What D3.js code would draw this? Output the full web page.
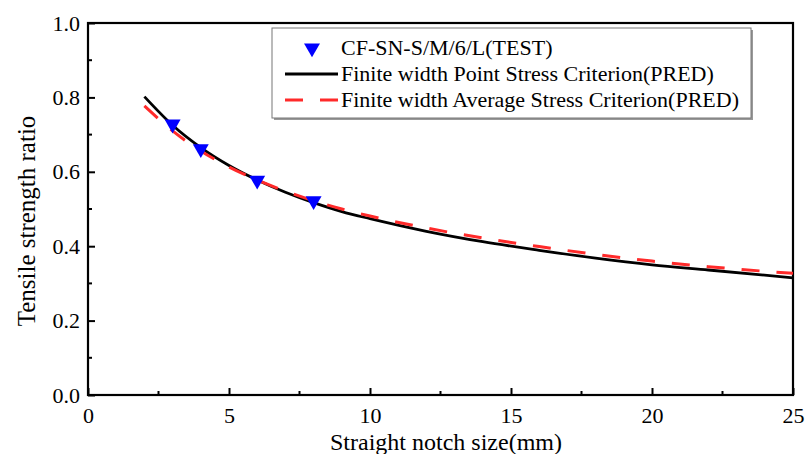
<!DOCTYPE html>
<html><head><meta charset="utf-8">
<script src="https://cdn.jsdelivr.net/npm/d3@7"></script>
<style>body{margin:0;background:#fff}svg{display:block}text{font-family:"Liberation Serif","Times New Roman",serif;fill:#000}</style>
</head><body>
<svg id="c" width="807" height="454"></svg>
<script>
const testX = [3, 4, 6, 8];
const testY = [0.728, 0.662, 0.577, 0.522];
const curveX = [2, 3, 4, 5, 6, 7, 8, 9, 10, 12, 14, 16, 18, 20, 22, 25];
const pointStress = [0.802, 0.725, 0.665, 0.617, 0.578, 0.545, 0.517, 0.493, 0.474, 0.440, 0.412, 0.389, 0.368, 0.350, 0.336, 0.315];
const avgStress = [0.777, 0.710, 0.656, 0.613, 0.578, 0.548, 0.522, 0.500, 0.481, 0.449, 0.422, 0.399, 0.378, 0.360, 0.345, 0.327];
const xTicks = [0, 5, 10, 15, 20, 25];
const yTicks = [0.0, 0.2, 0.4, 0.6, 0.8, 1.0];
const legendLabels = ["CF-SN-S/M/6/L(TEST)", "Finite width Point Stress Criterion(PRED)", "Finite width Average Stress Criterion(PRED)"];

const svg = d3.select("#c");
const L = 88, R = 793, T = 23, B = 395;
const x = d3.scaleLinear().domain([0, 25]).range([L, R]);
const y = d3.scaleLinear().domain([0, 1]).range([B, T]);

// minor ticks
const xMinor = d3.range(2.5, 25, 5);
const yMinor = d3.range(0.1, 1, 0.2);
const g = svg.append("g");
xMinor.forEach(v => g.append("line").attr("x1", x(v)).attr("x2", x(v)).attr("y1", B).attr("y2", B - 4).attr("stroke", "#000").attr("stroke-width", 2));
yMinor.forEach(v => g.append("line").attr("x1", L).attr("x2", L + 4).attr("y1", y(v)).attr("y2", y(v)).attr("stroke", "#000").attr("stroke-width", 2));

const xa = svg.append("g").attr("transform", `translate(0,${B})`)
  .call(d3.axisBottom(x).tickValues(xTicks).tickSizeInner(-7).tickSizeOuter(0).tickPadding(12).tickFormat(d3.format("d")));
xa.select(".domain").remove();
xa.selectAll("line").attr("stroke-width", 2);
xa.selectAll("text").attr("font-size", 22);

const ya = svg.append("g").attr("transform", `translate(${L},0)`)
  .call(d3.axisLeft(y).tickValues(yTicks).tickSizeInner(-7).tickSizeOuter(0).tickPadding(8).tickFormat(d3.format(".1f")));
ya.select(".domain").remove();
ya.selectAll("line").attr("stroke-width", 2);
ya.selectAll("text").attr("font-size", 22);

// frame
svg.append("rect").attr("x", L).attr("y", T).attr("width", R - L).attr("height", B - T)
  .attr("fill", "none").attr("stroke", "#000").attr("stroke-width", 2.2);

const line = d3.line().x(d => x(d[0])).y(d => y(d[1])).curve(d3.curveMonotoneX);
svg.append("path").datum(curveX.map((v, i) => [v, pointStress[i]])).attr("d", line)
  .attr("fill", "none").attr("stroke", "#000").attr("stroke-width", 2.8);
svg.append("path").datum(curveX.map((v, i) => [v, avgStress[i]])).attr("d", line)
  .attr("fill", "none").attr("stroke", "#ff2a2a").attr("stroke-width", 3).attr("stroke-dasharray", "18,17");

const tri = d3.symbol().type(d3.symbolTriangle).size(110);
svg.selectAll(".pt").data(testX.map((v, i) => [v, testY[i]])).enter().append("path")
  .attr("d", tri).attr("transform", d => `translate(${x(d[0])},${y(d[1])}) rotate(180)`)
  .attr("fill", "#0000ff");

// legend
const lg = svg.append("g");
lg.append("rect").attr("x", 274).attr("y", 30).attr("width", 479).attr("height", 90).attr("fill", "#999");
lg.append("rect").attr("x", 272).attr("y", 28).attr("width", 479).attr("height", 90).attr("fill", "#fff").attr("stroke", "#777").attr("stroke-width", 1);
const rows = [47, 73, 99];
lg.append("path").attr("d", tri).attr("transform", `translate(312,${rows[0] + 1}) rotate(180)`).attr("fill", "#0000ff");
lg.append("line").attr("x1", 285).attr("x2", 338).attr("y1", rows[1] + 1).attr("y2", rows[1] + 1).attr("stroke", "#000").attr("stroke-width", 2.8);
lg.append("line").attr("x1", 285).attr("x2", 338).attr("y1", rows[2] + 1).attr("y2", rows[2] + 1).attr("stroke", "#ff2a2a").attr("stroke-width", 3).attr("stroke-dasharray", "18,17");
legendLabels.forEach((t, i) => lg.append("text").attr("x", 341).attr("y", rows[i]).attr("dy", "0.35em").attr("font-size", 22).text(t));

svg.append("text").attr("x", 446).attr("y", 450).attr("text-anchor", "middle").attr("font-size", 24).text("Straight notch size(mm)");
svg.append("text").attr("transform", `translate(35,221) rotate(-90)`).attr("text-anchor", "middle").attr("font-size", 25).text("Tensile strength ratio");
</script>
</body></html>
